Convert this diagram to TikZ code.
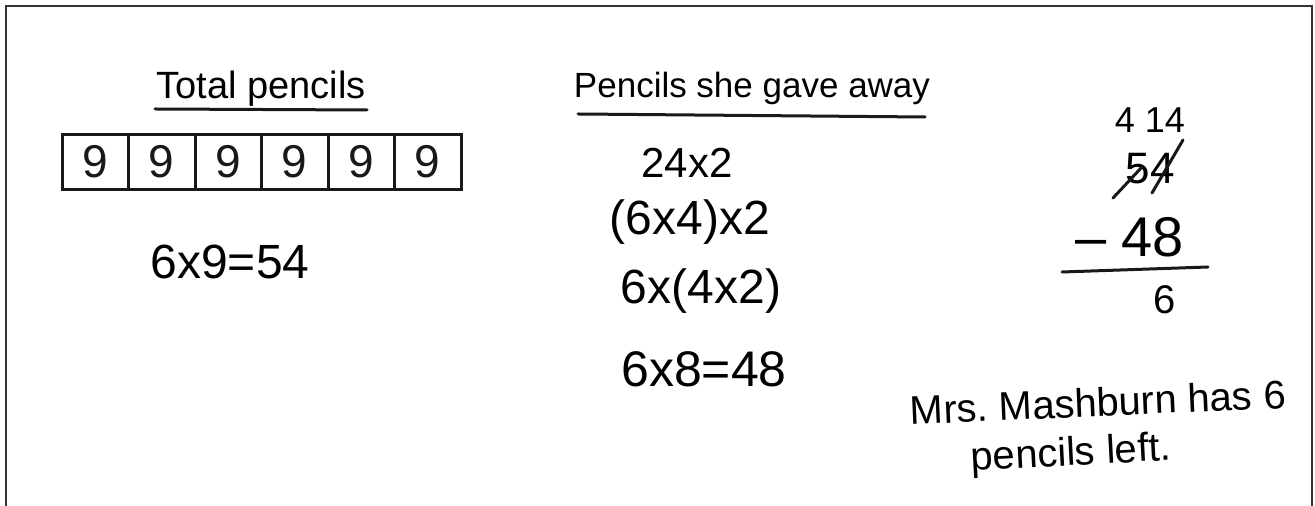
\documentclass[tikz,border=0pt]{standalone}
\usepackage{fontspec}
\setmainfont{Liberation Sans}
\tikzset{
  hand/.style={line width=1.5pt,line cap=round,black!90},
  cell/.style={draw,hand,minimum width=33.25pt,minimum height=27.5pt,inner sep=0pt,font=\fontsize{23}{26}\selectfont},
}
\begin{document}
\begin{tikzpicture}[x=0.5pt,y=-0.5pt]
  \useasboundingbox (0,0) rectangle (1315,506);
  % frame, open at the bottom
  \draw[black!80,line width=1.1pt] (6,506) -- (6,6) -- (1312,6) -- (1312,506);

  % total pencils
  \node[font=\fontsize{19}{22}\selectfont] (total) at (261,89) {Total pencils};
  \draw[hand] (155,109) -- (367,110);
  \foreach \i in {1,...,6}{
    \node[cell] (c\i) at ({62+66.5*(\i-0.5)},162) {9};
  }
  \node[font=\fontsize{24}{28}\selectfont] (prod) at (230,262) {6x9=54};

  % pencils she gave away
  \node[font=\fontsize{17.5}{21}\selectfont] (away) at (752,88) {Pencils she gave away};
  \draw[hand] (578,114) -- (925,117);
  \node[font=\fontsize{21}{25}\selectfont] (stepa) at (687,163) {24x2};
  \node[font=\fontsize{24}{28}\selectfont] (stepb) at (690,222) {(6x4)x2};
  \node[font=\fontsize{24}{28}\selectfont] (stepc) at (701,291) {6x(4x2)};
  \node[font=\fontsize{25}{29}\selectfont] (stepd) at (704,369) {6x8=48};

  % subtraction
  \node[font=\fontsize{18}{21}\selectfont] (borrow) at (1150,120) {4 14};
  \node[font=\fontsize{22}{26}\selectfont] (minuend) at (1150,169) {54};
  \draw[hand] (1113,198) -- (1142,167);
  \draw[hand] (1152,193) -- (1183,140);
  \node[font=\fontsize{28}{32}\selectfont] (subtr) at (1125,237) {\,– 48};
  \draw[hand] (1062,272) -- (1208,267);
  \node[font=\fontsize{20}{24}\selectfont] (diff) at (1165,300) {6};

  % answer
  \node[font=\fontsize{20}{24}\selectfont,rotate=2.5] (ans) at (1098,402) {Mrs.\ Mashburn has 6};
  \node[font=\fontsize{20}{24}\selectfont,rotate=3] (left) at (1071,455) {pencils left.};
\end{tikzpicture}
\end{document}
